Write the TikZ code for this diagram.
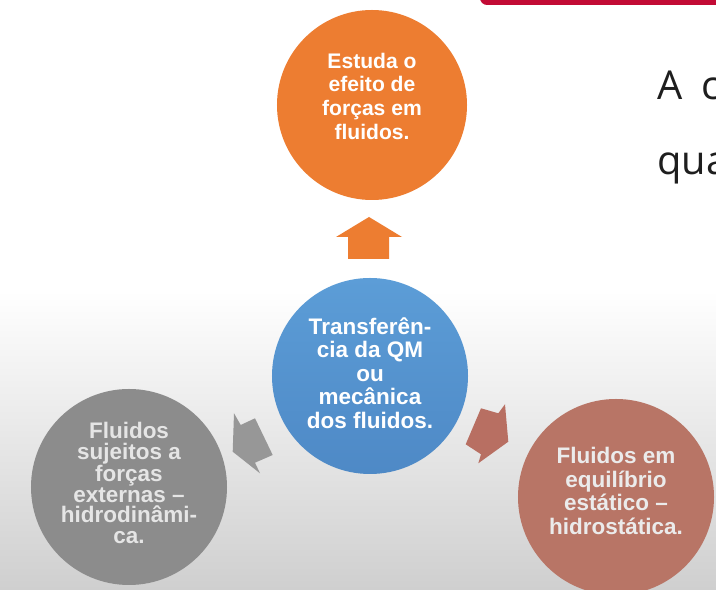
\documentclass[tikz,border=0pt]{standalone}
\usepackage{fontspec}
\setmainfont{Liberation Sans}
\newfontfamily\slidefont{Open Sans}
\usepackage{xcolor}
\usepackage{tikz}

\definecolor{orangeA}{HTML}{ED7D31}
\definecolor{blueA}{HTML}{5C9DD7}
\definecolor{blueB}{HTML}{4E89C6}
\definecolor{grayA}{HTML}{8C8C8C}
\definecolor{brownA}{HTML}{B87566}
\definecolor{grayArrow}{HTML}{979797}
\definecolor{brownArrow}{HTML}{B86F62}
\definecolor{barRed}{HTML}{C20B35}
\definecolor{bgGray}{HTML}{CFCFCF}
\definecolor{inkA}{HTML}{1E1E1E}

\begin{document}
\begin{tikzpicture}[x=0.03cm, y=0.03cm,
    bubble/.style={circle, inner sep=0pt, minimum size=5.88cm},
    bubbletext/.style={align=center, text=white, font=\bfseries\fontsize{19.2}{20}\selectfont},
    slidetext/.style={anchor=base west, inner sep=0pt, text=inkA, font=\slidefont\fontsize{34}{40}\selectfont}
]
\useasboundingbox (0,0) rectangle (716,590);
\clip (0,0) rectangle (716,590);
\fill[white] (0,0) rectangle (716,590);
\shade[top color=white, bottom color=bgGray] (0,0) rectangle (716,300);
\fill[barRed, rounded corners=6pt] (480,585) rectangle (730,600);

\node (study) at (372,485) [bubble, fill=orangeA, minimum size=5.7cm] {};
\node (hub) at (370,214) [bubble, top color=blueA, bottom color=blueB] {};
\node (dyn) at (129,103) [bubble, fill=grayA] {};
\node (stat) at (616,93) [bubble, fill=brownA] {};

\node (studyTxt) at (372,494) [bubbletext, font=\bfseries\fontsize{18}{20.2}\selectfont] {Estuda o\\efeito de\\forças em\\fluidos.};
\node (hubTxt) at (370,217) [bubbletext] {Transferên-\\cia da QM\\ou\\mecânica\\dos fluidos.};
\node (dynTxt) at (129,107) [bubbletext, text=black!10, font=\bfseries\fontsize{19.2}{17.6}\selectfont] {Fluidos\\sujeitos a\\forças\\externas –\\hidrodinâmi-\\ca.};
\node (statTxt) at (616,99) [bubbletext, text=black!8] {Fluidos em\\equilíbrio\\estático –\\hidrostática.};

\fill[orangeA] (348,331) -- (348,353) -- (336,353) -- (369,373) -- (402,353) -- (389,353) -- (389,331) -- cycle;
\fill[grayArrow] (234,176.7) -- (240.7,165) -- (255,171.7) -- (272.7,135) -- (255,127.3) -- (260,116.7) -- (232.7,138.3) -- cycle;
\fill[brownArrow] (481,181.7) -- (498.3,176.7) -- (505,185.7) -- (508.3,148.3) -- (478.3,126.7) -- (481,135.7) -- (465.7,145.7) -- cycle;

\node (slideA) at (657,490) [slidetext] {A\hspace{0.48em}c};
\node (slideB) at (657,415) [slidetext] {qua};
\end{tikzpicture}
\end{document}
